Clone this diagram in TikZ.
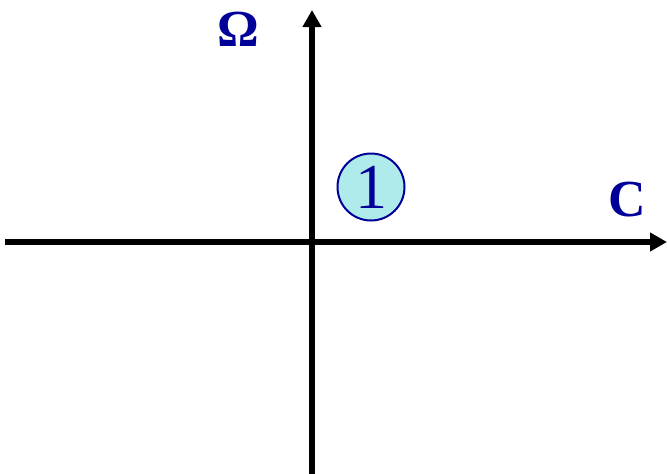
\documentclass[tikz,border=0pt]{standalone}
\usepackage{fontspec}
\setmainfont{Liberation Serif}
\usetikzlibrary{arrows.meta,positioning}
\definecolor{navy}{RGB}{0,0,153}
\definecolor{paleaqua}{RGB}{175,235,235}

\begin{document}
\begin{tikzpicture}[x={(1pt,0pt)},y={(0pt,-1pt)},
  axis/.style={line width=6pt,-{Triangle[length=17pt,width=18pt]}},
  lbl/.style={text=navy,font=\fontsize{52}{54}\selectfont\bfseries,inner sep=0pt},
  phase/.style={circle,draw=navy,line width=2pt,fill=paleaqua,
    minimum size=67pt,inner sep=0pt,text=navy,font=\fontsize{64}{64}\selectfont}]
\useasboundingbox (0,0) rectangle (667,474);
\coordinate (W) at (5,242);
\coordinate (E) at (667,242);
\coordinate (S) at (312,474);
\coordinate (N) at (312,10);
\draw[axis] (W) -- (E);
\draw[axis] (S) -- (N);
\node[lbl] (omega) at (238,29) {Ω};
\node[lbl] (c) at (627,200) {C};
\node[phase] (one) at (371,187) {\raisebox{-3pt}{1}};
\end{tikzpicture}
\end{document}
